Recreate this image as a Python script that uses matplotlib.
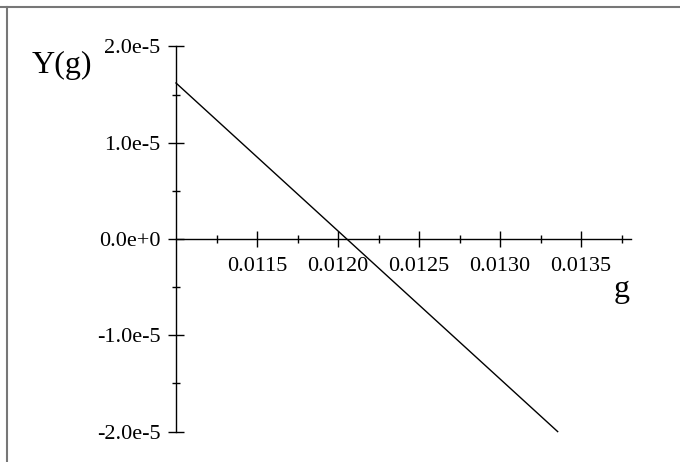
import numpy as np
import matplotlib
matplotlib.use("Agg")
import matplotlib.pyplot as plt
from matplotlib.lines import Line2D
from matplotlib.ticker import FixedLocator, FuncFormatter

plt.rcParams['font.family'] = ['Liberation Serif', 'DejaVu Serif']

# Y(g) sampled at the two ends of the plotted range
g = [0.0110, 0.013356]
Y = [1.62e-5, -2.0e-5]

x_major = [0.0115, 0.0120, 0.0125, 0.0130, 0.0135]
x_minor = [0.01125, 0.01175, 0.01225, 0.01275, 0.01325, 0.01375]
y_major = [-2.0e-5, -1.0e-5, 0.0, 1.0e-5, 2.0e-5]
y_minor = [-1.5e-5, -0.5e-5, 0.5e-5, 1.5e-5]
y_labels = ["-2.0e-5", "-1.0e-5", "0.0e+0", "1.0e-5", "2.0e-5"]

W, H = 680, 462
fig = plt.figure(figsize=(W / 100, H / 100), dpi=100)
ax = fig.add_axes([0, 0, 1, 1])
ax.patch.set_alpha(0)

# pixel scale of the drawing area
px_x = 162000.0
px_y = 9.63e6
x0_px, y0_px = 176, 239
ax.set_xlim(0.0110 - x0_px / px_x, 0.0110 + (W - x0_px) / px_x)
ax.set_ylim(-(H - y0_px) / px_y, y0_px / px_y)

ax.plot(g, Y, color='black', lw=1.0)

for s in ['top', 'right']:
    ax.spines[s].set_visible(False)
ax.spines['left'].set_position(('data', 0.0110))
ax.spines['bottom'].set_position(('data', 0.0))
ax.spines['left'].set_bounds(-2.0e-5, 2.0e-5)
ax.spines['bottom'].set_bounds(0.0110, 0.013809)
for s in ['left', 'bottom']:
    ax.spines[s].set_linewidth(1.0)

ax.xaxis.set_major_locator(FixedLocator(x_major))
ax.xaxis.set_minor_locator(FixedLocator(x_minor))
ax.xaxis.set_major_formatter(FuncFormatter(lambda v, p: "%.4f" % v))
ax.yaxis.set_major_locator(FixedLocator(y_major))
ax.yaxis.set_minor_locator(FixedLocator(y_minor))
ax.yaxis.set_major_formatter(FuncFormatter(lambda v, p: y_labels[p]))

ax.tick_params(which='major', direction='inout', length=11.5, width=1.0,
               labelsize=16, colors='black')
ax.tick_params(which='minor', direction='inout', length=5.8, width=1.0)
ax.tick_params(axis='x', which='major', pad=7.5)
ax.tick_params(axis='y', which='major', pad=5.5)

ax.set_ylabel("Y(g)", fontsize=23, rotation=0, ha='center', va='center')
ax.yaxis.set_label_coords(62 / W, 1 - 65 / H)
ax.set_xlabel("g", fontsize=23, ha='center', va='center')
ax.xaxis.set_label_coords(622 / W, 1 - 289 / H)

# grey frame along the top and left edges
fig.add_artist(Line2D([0, 1], [1 - 7 / H, 1 - 7 / H], transform=fig.transFigure,
                      color='#777777', lw=1.5))
fig.add_artist(Line2D([7 / W, 7 / W], [0, 1 - 7 / H], transform=fig.transFigure,
                      color='#777777', lw=1.5))

fig.savefig("out.png", dpi=100)
